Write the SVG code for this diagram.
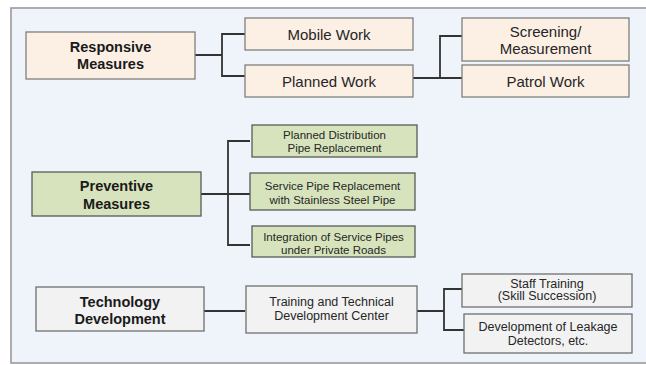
<svg xmlns="http://www.w3.org/2000/svg" width="646" height="365" viewBox="0 0 646 365">
<style>
.peach{fill:#fcefe4;stroke:#7f7f7f;stroke-width:1.3}
.green{fill:#d7e3bc;stroke:#5a5a5a;stroke-width:1.3}
.grey{fill:#f2f2f2;stroke:#6f6f6f;stroke-width:1.3}
text{font-family:"Liberation Sans",Arial,sans-serif;fill:#262626;text-anchor:middle}
.b{font-weight:bold;font-size:14.5px;fill:#1a1a1a}
.m{font-size:15px}
.s{font-size:11.5px}
.t{font-size:12.5px}
.c{fill:none;stroke:#333;stroke-width:1.8}
</style>
<rect x="0" y="0" width="646" height="365" fill="#ffffff"/>
<rect x="11" y="8" width="650" height="355" fill="#eef4f9" stroke="#9a9a9a" stroke-width="1.6"/>
<g id="connectors">
<path class="c" d="M195 55H222M245 34H222V76H245"/>
<path class="c" d="M413 78H440M462 36H440V78H462"/>
<path class="c" d="M201 194H250M250 141H228V245H250"/>
<path class="c" d="M204 311H245"/>
<path class="c" d="M417 311H444M462 289H444V330H464"/>
</g>
<g id="responsive">
<rect class="peach" x="26" y="32" width="169" height="47"/>
<text class="b" x="110.5" y="52">Responsive</text>
<text class="b" x="110.5" y="69">Measures</text>
</g>
<g id="mobile">
<rect class="peach" x="245" y="18" width="168" height="32"/>
<text class="m" x="329" y="39.5">Mobile Work</text>
</g>
<g id="planned">
<rect class="peach" x="245" y="65" width="168" height="32"/>
<text class="m" x="329" y="86.5">Planned Work</text>
</g>
<g id="screening">
<rect class="peach" x="462" y="18" width="167" height="43"/>
<text class="m" x="545.5" y="37">Screening/</text>
<text class="m" x="545.5" y="53.5">Measurement</text>
</g>
<g id="patrol">
<rect class="peach" x="462" y="65" width="167" height="32"/>
<text class="m" x="545.5" y="86.5">Patrol Work</text>
</g>
<g id="preventive">
<rect class="green" x="32" y="172" width="169" height="44"/>
<text class="b" x="116.5" y="191">Preventive</text>
<text class="b" x="116.5" y="208.5">Measures</text>
</g>
<g id="distribution">
<rect class="green" x="252" y="125" width="165" height="32"/>
<text class="s" x="334.5" y="139">Planned Distribution</text>
<text class="s" x="334.5" y="151.5">Pipe Replacement</text>
</g>
<g id="servicepipe">
<rect class="green" x="250" y="173" width="165" height="37"/>
<text class="s" x="332.5" y="190">Service Pipe Replacement</text>
<text class="s" x="332.5" y="203.5">with Stainless Steel Pipe</text>
</g>
<g id="integration">
<rect class="green" x="252" y="226" width="163" height="31"/>
<text class="s" x="333.5" y="241">Integration of Service Pipes</text>
<text class="s" x="333.5" y="254">under Private Roads</text>
</g>
<g id="technology">
<rect class="grey" x="36" y="287" width="168" height="44"/>
<text class="b" x="120" y="307">Technology</text>
<text class="b" x="120" y="323.5">Development</text>
</g>
<g id="training">
<rect class="grey" x="246" y="286" width="171" height="47"/>
<text class="t" x="331.5" y="306">Training and Technical</text>
<text class="t" x="331.5" y="320">Development Center</text>
</g>
<g id="staff">
<rect class="grey" x="462" y="274" width="170" height="33"/>
<text class="t" x="547" y="287.5">Staff Training</text>
<text class="t" x="547" y="300">(Skill Succession)</text>
</g>
<g id="detectors">
<rect class="grey" x="464" y="314" width="168" height="39"/>
<text class="t" x="548" y="331">Development of Leakage</text>
<text class="t" x="548" y="344.5">Detectors, etc.</text>
</g>
</svg>
